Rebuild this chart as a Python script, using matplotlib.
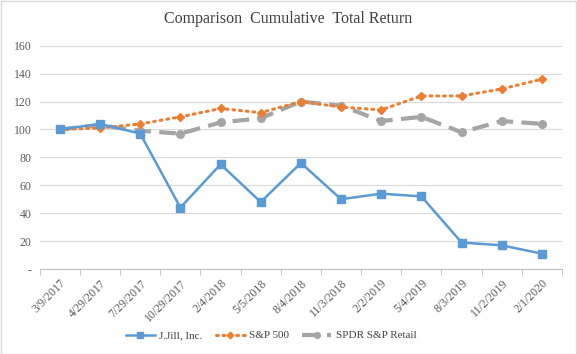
import matplotlib.pyplot as plt
import numpy as np

dates = ['3/9/2017', '4/29/2017', '7/29/2017', '10/29/2017', '2/4/2018', '5/5/2018',
         '8/4/2018', '11/3/2018', '2/2/2019', '5/4/2019', '8/3/2019', '11/2/2019', '2/1/2020']
jjill = [100, 104, 97, 44, 75, 48, 76, 50, 54, 52, 19, 17, 11]
sp500 = [100, 101, 104, 109, 115, 112, 120, 116, 114, 124, 124, 129, 136]
spdr_retail = [100, 103, 99, 97, 105, 108, 120, 117, 106, 109, 98, 106, 104]
yticks = [0, 20, 40, 60, 80, 100, 120, 140, 160]
ytick_labels = ['-', '20', '40', '60', '80', '100', '120', '140', '160']

plt.rcParams['font.family'] = ['Liberation Serif', 'DejaVu Serif']

fig = plt.figure(figsize=(5.77, 3.54), dpi=100)
ax = fig.add_axes([0.069, 0.240, 0.905, 0.631])
fig.patches.append(plt.Rectangle((0.001, 0.001), 0.997, 0.996, transform=fig.transFigure,
                                 fill=False, edgecolor='#d9d9d9', linewidth=1))

x = np.arange(len(dates))
ax.plot(x, jjill, color='#5B9BD5', lw=1.8, marker='s', ms=5.5, label='J.Jill, Inc.', zorder=3)
ax.plot(x, sp500, color='#ED7D31', lw=2.2, ls=(0, (0.6, 1.6)), dash_capstyle='round',
        marker='D', ms=4.5, label='S&P 500', zorder=2)
ax.plot(x, spdr_retail, color='#A5A5A5', lw=3, ls=(0, (4, 2)), marker='o', ms=5.5,
        label='SPDR S&P Retail', zorder=1)

ax.set_xlim(-0.5, len(dates) - 0.5)
ax.set_ylim(0, 160)
ax.set_yticks(yticks)
ax.set_yticklabels(ytick_labels, fontsize=8.5, color='#595959')
ax.set_xticks(x)
ax.set_xticklabels(dates, rotation=45, ha='right', rotation_mode='anchor', fontsize=8.5, color='#595959')
ax.set_xticks(np.arange(-0.5, len(dates)), minor=True)
ax.tick_params(axis='x', which='major', length=0, pad=6)
ax.tick_params(axis='x', which='minor', length=4, color='#bfbfbf')
ax.tick_params(axis='y', length=0, pad=6)
ax.grid(axis='y', color='#d9d9d9', lw=0.8)
ax.set_axisbelow(True)
for s in ['top', 'right', 'left']:
    ax.spines[s].set_visible(False)
ax.spines['bottom'].set_color('#bfbfbf')

fig.suptitle('Comparison  Cumulative  Total Return', y=0.97, fontsize=11.5, color='#404040')
fig.legend(loc='lower center', bbox_to_anchor=(0.47, 0.01), ncol=3, frameon=False,
           fontsize=8, handlelength=2.6, handletextpad=0.4, columnspacing=1.2,
           markerscale=0.75, labelcolor='#404040')

fig.savefig('out.png', dpi=100)
